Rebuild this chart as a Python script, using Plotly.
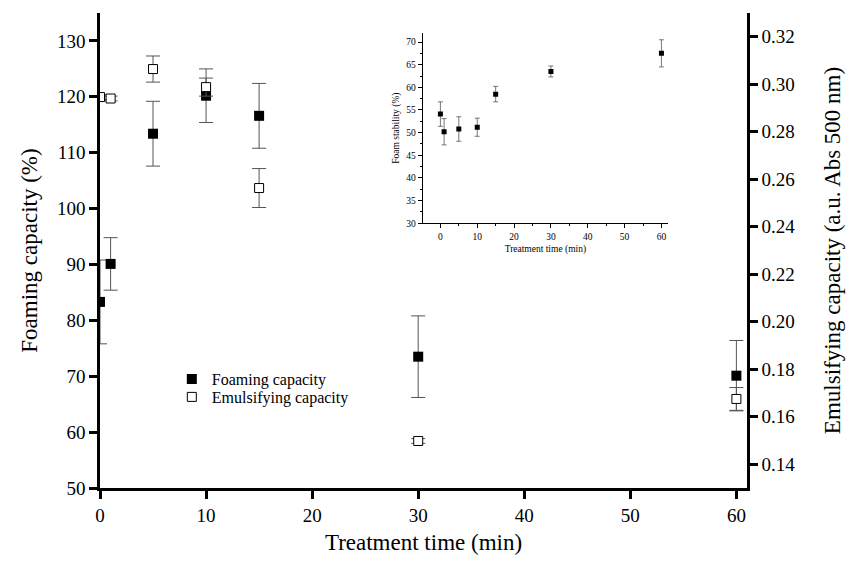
import plotly.graph_objects as go

# ---- data ----
time = [0, 1, 5, 10, 15, 30, 60]

foaming = [83.3, 90.1, 113.4, 120.2, 116.6, 73.5, 70.1]
foaming_err = [7.5, 4.7, 5.8, 4.8, 5.8, 7.3, 6.3]

emulsifying = [0.2946, 0.2940, 0.3064, 0.2988, 0.2563, 0.1498, 0.1675]
emulsifying_err = [0.0010, 0.0010, 0.0055, 0.0038, 0.0082, 0.0010, 0.0048]

foam_stability = [54.1, 50.2, 50.8, 51.2, 58.5, 63.5, 67.5]
foam_stability_err = [2.7, 2.9, 2.7, 2.0, 1.7, 1.2, 3.0]

x_ticks = [0, 10, 20, 30, 40, 50, 60]

FONT = "Liberation Serif, Times New Roman, serif"
ERR = "#555555"

fig = go.Figure()

fig.add_trace(go.Scatter(
    x=time, y=foaming, mode="markers", name="Foaming capacity",
    marker=dict(symbol="square", size=10, color="black"),
    error_y=dict(type="data", array=foaming_err, color=ERR, thickness=1, width=7),
    xaxis="x", yaxis="y", legend="legend",
))
fig.add_trace(go.Scatter(
    x=time, y=emulsifying, mode="markers", name="Emulsifying capacity",
    marker=dict(symbol="square", size=9, color="white", line=dict(color="black", width=1)),
    error_y=dict(type="data", array=emulsifying_err, color=ERR, thickness=1, width=7),
    xaxis="x", yaxis="y2", legend="legend2",
))
fig.add_trace(go.Scatter(
    x=time, y=foam_stability, mode="markers", name="Foam stability",
    marker=dict(symbol="square", size=5, color="black"),
    error_y=dict(type="data", array=foam_stability_err, color=ERR, thickness=0.8, width=2.5),
    xaxis="x3", yaxis="y3", showlegend=False,
))

axis_common = dict(showgrid=False, zeroline=False, showline=True, linecolor="black",
                   ticks="outside", tickcolor="black", automargin=False)

fig.update_layout(
    width=849, height=568,
    margin=dict(l=100, r=102, t=13, b=80),
    paper_bgcolor="white", plot_bgcolor="white",
    font=dict(family=FONT, color="black"),
    xaxis=dict(**axis_common, domain=[0, 1], range=[0, 61], tickvals=x_ticks,
               linewidth=2.5, ticklen=8, tickwidth=2.5,
               tickfont=dict(size=19),
               title=dict(text="Treatment time (min)", font=dict(size=23), standoff=10)),
    yaxis=dict(**axis_common, range=[50, 135], tick0=50, dtick=10,
               linewidth=2.5, ticklen=8, tickwidth=2.5,
               tickfont=dict(size=19),
               title=dict(text="Foaming capacity (%)", font=dict(size=23), standoff=13)),
    yaxis2=dict(**axis_common, overlaying="y", side="right", anchor="x",
                range=[0.13, 0.33], tick0=0.14, dtick=0.02, tickformat=".2f",
                linewidth=2.5, ticklen=8, tickwidth=2.5,
                tickfont=dict(size=19),
                title=dict(text="Emulsifying capacity (a.u. Abs 500 nm)", font=dict(size=23), standoff=30)),
    xaxis3=dict(**axis_common, domain=[0.4988, 0.878], anchor="y3", range=[-4.8, 61.8],
                tickvals=x_ticks, linewidth=1, ticklen=4, tickwidth=1,
                minor=dict(dtick=5, tick0=0, ticks="outside", ticklen=2, tickcolor="black"),
                tickfont=dict(size=9.5),
                title=dict(text="Treatment time (min)", font=dict(size=9.5), standoff=4)),
    yaxis3=dict(**axis_common, domain=[0.5573, 0.958], anchor="x3", range=[30, 72],
                tick0=30, dtick=5, linewidth=1, ticklen=4, tickwidth=1,
                minor=dict(dtick=2.5, tick0=30, ticks="outside", ticklen=2, tickcolor="black"),
                tickfont=dict(size=9.5),
                title=dict(text="Foam stability (%)", font=dict(size=9.5), standoff=4)),
    legend=dict(x=0.111, y=0.2295, xanchor="left", yanchor="middle",
                bgcolor="rgba(0,0,0,0)", font=dict(size=16), itemwidth=30),
    legend2=dict(x=0.111, y=0.1916, xanchor="left", yanchor="middle",
                 bgcolor="rgba(0,0,0,0)", font=dict(size=16), itemwidth=30),
)

fig.write_html("out.html", config={"displayModeBar": False},
               post_script="document.body.style.margin='0px';document.body.style.padding='0px';")
